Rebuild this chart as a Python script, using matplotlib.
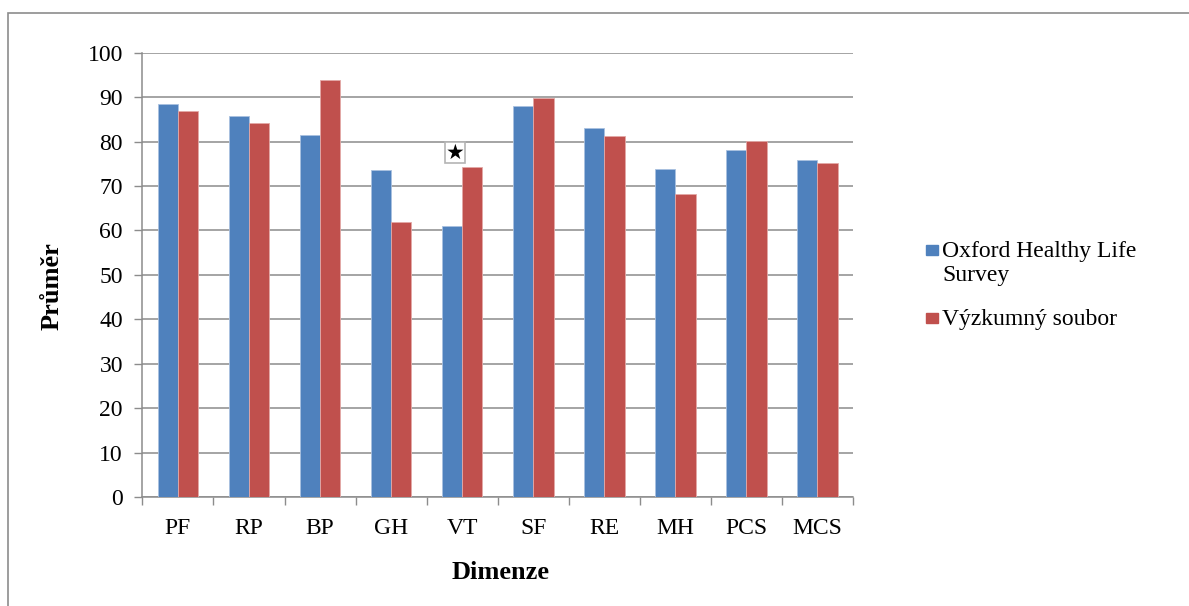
import numpy as np
import matplotlib
matplotlib.use('Agg')
import matplotlib.pyplot as plt
from matplotlib.patches import Rectangle

# SF-36 dimension means
dimensions = ['PF', 'RP', 'BP', 'GH', 'VT', 'SF', 'RE', 'MH', 'PCS', 'MCS']
oxford = [88.4, 85.8, 81.5, 73.5, 61.0, 88.1, 83.0, 73.8, 78.1, 75.8]
vyzkum = [86.9, 84.1, 93.9, 62.0, 74.3, 89.7, 81.3, 68.2, 80.2, 75.1]
series_labels = ['Oxford Healthy Life\nSurvey', 'Výzkumný soubor']
y_ticks = list(range(0, 101, 10))
signif_dim = 'VT'

BLUE = '#4F81BD'
RED = '#C0504D'
GRID = '#8c8c8c'

plt.rcParams['font.family'] = ['Liberation Serif', 'DejaVu Serif']

fig = plt.figure(figsize=(11.89, 6.06), dpi=100)
ax = fig.add_axes([0.1198, 0.1799, 0.5976, 0.7331])

x = np.arange(len(dimensions))
w = 0.2857
ax.bar(x - w / 2, oxford, w, color=BLUE, edgecolor='#a9c1e0', linewidth=0.6, zorder=3)
ax.bar(x + w / 2, vyzkum, w, color=RED, edgecolor='#e3a9a7', linewidth=0.6, zorder=3)

ax.set_xlim(-0.5, len(dimensions) - 0.5)
ax.set_ylim(0, 100)
ax.set_yticks(y_ticks)
ax.tick_params(axis='y', labelsize=17, length=6, width=1, color=GRID, pad=8)
ax.grid(axis='y', color=GRID, linewidth=1.1, zorder=0)

# category labels sit between the boundary tick marks
ax.set_xticks(np.arange(-0.5, len(dimensions)), labels=[''] * (len(dimensions) + 1))
ax.set_xticks(x, labels=dimensions, minor=True)
ax.tick_params(axis='x', which='major', length=6, width=1, color=GRID)
ax.tick_params(axis='x', which='minor', length=0, labelsize=17, pad=15)

for side in ['top', 'right']:
    ax.spines[side].set_visible(False)
for side in ['left', 'bottom']:
    ax.spines[side].set_color(GRID)
    ax.spines[side].set_linewidth(1.1)

ax.set_ylabel('Průměr', fontsize=19, fontweight='bold', va='center')
ax.yaxis.set_label_coords(-0.127, 0.475)
ax.set_xlabel('Dimenze', fontsize=19, fontweight='bold', va='center')
ax.xaxis.set_label_coords(0.5045, -0.169)

# significance marker above VT
i = dimensions.index(signif_dim)
ax.text(i - 0.1, 77.5, '★', family='DejaVu Sans', fontsize=15,
        ha='center', va='center', zorder=5,
        bbox=dict(boxstyle='square,pad=0.02', fc='white', ec='#b4b4b4', lw=1.2))

# legend
for (yc, col, lab) in [(0.587, BLUE, series_labels[0]), (0.475, RED, series_labels[1])]:
    fig.add_artist(Rectangle((0.7785, yc - 0.0085), 0.0105, 0.0175,
                             transform=fig.transFigure, color=col))
    fig.text(0.7925, yc + 0.015, lab, fontsize=17, ha='left', va='top',
             linespacing=1.15)

# chart frame
fig.add_artist(Rectangle((0.0067, -0.05), 1.05, 0.9785 + 0.05, transform=fig.transFigure,
                         fill=False, ec='#8c8c8c', lw=1.2))

fig.savefig('out.png', dpi=100)
